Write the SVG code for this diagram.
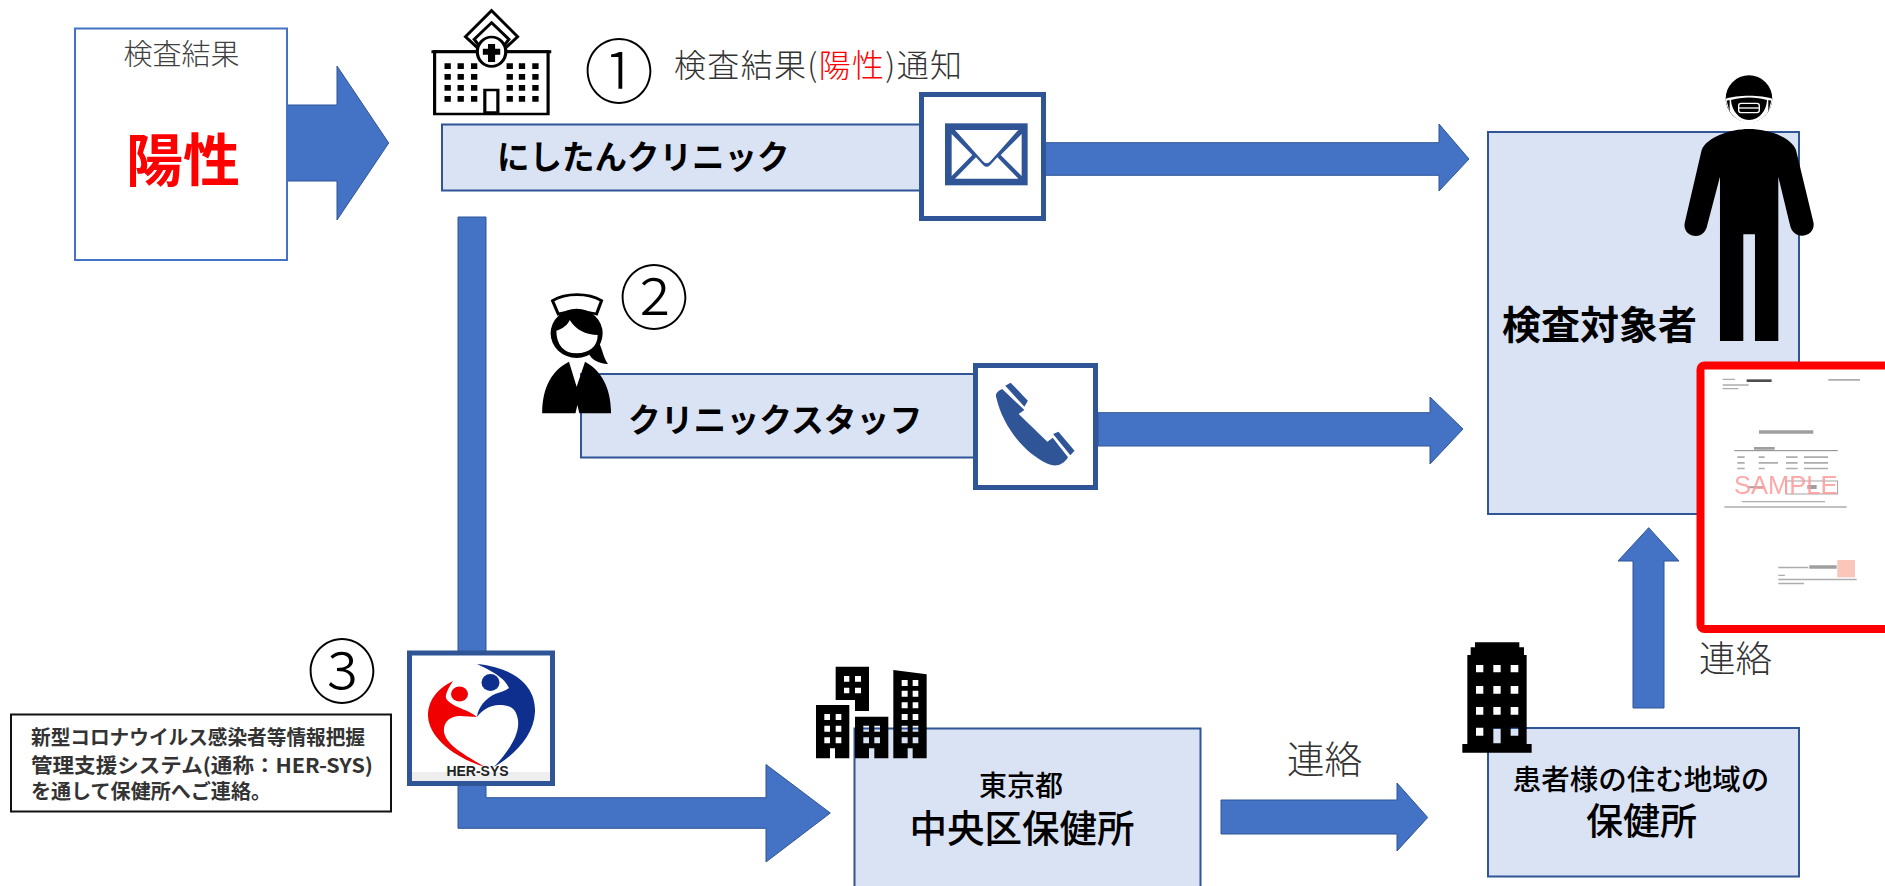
<svg xmlns="http://www.w3.org/2000/svg" width="1885" height="886" viewBox="0 0 1885 886">
<defs>
<style>
text{font-family:"Noto Sans CJK JP","Noto Sans CJK SC","Liberation Sans",sans-serif;fill:#000}
.box{fill:#DAE3F3;stroke:#2F5597;stroke-width:2}
.frame{fill:#fff;stroke:#2F5597;stroke-width:5}
.arrow{fill:#4472C4;stroke:#2F5597;stroke-width:1}
.m{text-anchor:middle}
.lt{font-weight:300}
.md{font-weight:500}
.bd{font-weight:700}
.ink{fill:#2F5597}
.bar{fill:#999}
</style>
<filter id="soft" x="-5%" y="-5%" width="110%" height="110%"><feGaussianBlur stdDeviation="0.45"/></filter>
</defs>
<rect width="1885" height="886" fill="#fff"/>

<g id="connectors">
<path class="arrow" d="M287 105H337V66L388.700 143L337 220V181H287Z"/>
<path class="arrow" d="M1045 142.700H1439V124L1469 159L1439 191V175.300H1045Z"/>
<path class="arrow" d="M1098 412.700H1430V397L1463 429L1430 464V446H1098Z"/>
<path class="arrow" d="M458 217H486V797.700H766V764.500L830.300 813L766 862V828.300H458Z"/>
<path class="arrow" d="M1221 800H1397V783L1427.700 817.500L1397 851V834H1221Z"/>
<path class="arrow" d="M1633 708V561H1618L1648.700 527.700L1679 561H1664V708Z"/>
</g>

<g id="result">
<rect x="75" y="28.500" width="212" height="231.500" fill="#fff" stroke="#4472C4" stroke-width="2"/>
<text class="m lt" x="181.500" y="65" font-size="29" style="fill:#404040">検査結果</text>
<text class="m bd" x="183" y="181" font-size="57" style="fill:#f00">陽性</text>
</g>

<g id="clinic">
<rect class="box" x="442" y="124.500" width="480" height="66"/>
<text class="bd" x="497" y="169" font-size="32.500">にしたんクリニック</text>
<g transform="translate(40 0) scale(.3954 .3333)">
<path d="M998 155H1285V342H998Z M1125 338V270H1158V338Z" fill="#fff" stroke="#000" stroke-width="8"/>
<path d="M990 155H1293" stroke="#000" stroke-width="9" fill="none"/>
<path d="M1142 32L1208 110L1172 150H1112L1076 110Z" fill="#fff" stroke="#000" stroke-width="8"/>
<path d="M1142 68L1186 118L1165 150H1119L1098 118Z" fill="#fff" stroke="#000" stroke-width="8"/>
<ellipse cx="1142" cy="155" rx="36" ry="44" fill="#fff" stroke="#000" stroke-width="8"/>
<path d="M1133 132h18v14h13v18h-13v22h-18v-22h-13v-18h13z" fill="#000"/>
<path d="M1023 190h16v17h-16zM1056 190h16v17h-16zM1090 190h16v17h-16zM1180 190h16v17h-16zM1211 190h16v17h-16zM1245 190h16v17h-16zM1023 222h16v17h-16zM1056 222h16v17h-16zM1090 222h16v17h-16zM1180 222h16v17h-16zM1211 222h16v17h-16zM1245 222h16v17h-16zM1023 255h16v17h-16zM1056 255h16v17h-16zM1090 255h16v17h-16zM1180 255h16v17h-16zM1211 255h16v17h-16zM1245 255h16v17h-16zM1023 288h16v17h-16zM1056 288h16v17h-16zM1090 288h16v17h-16zM1180 288h16v17h-16zM1211 288h16v17h-16zM1245 288h16v17h-16z" fill="#000"/>
</g>
<text class="m lt" x="619" y="98" font-size="70">①</text>
<text class="lt" x="674" y="77" font-size="32" textLength="288" style="fill:#333">検査結果(<tspan style="fill:#f00">陽性</tspan>)通知</text>
</g>

<g id="mail">
<rect class="frame" x="921.500" y="94.500" width="122" height="124"/>
<g transform="translate(900 80) scale(.3333)">
<rect class="ink" x="135" y="130" width="248" height="186"/>
<path fill="#fff" d="M165 150H355L272 243Q260 256 248 243ZM155 162V288L217 225ZM365 162V288L302 225ZM165 296H355L292 232L270 256Q260 265 250 256L228 232Z"/>
</g>
</g>

<g id="staff">
<rect class="box" x="581" y="374" width="394" height="83.500"/>
<text class="bd" x="628" y="432" font-size="32.800">クリニックスタッフ</text>
<g transform="translate(520 270) scale(.3827 .3333)">
<path d="M85 92C120 68 178 68 213 92L200 132C170 122 128 122 100 132Z" fill="#fff" stroke="#000" stroke-width="8"/>
<ellipse cx="148" cy="190" rx="68" ry="74" fill="#000"/>
<path d="M200 210C215 225 215 260 230 282C205 282 185 268 180 250Z" fill="#000"/>
<path d="M95 182C110 177 125 165 130 150C145 180 175 195 203 195C203 230 180 250 148 250C115 250 95 225 95 182Z" fill="#fff"/>
<path d="M58 430C58 350 85 300 128 275L148 350L170 275C210 300 238 350 238 430H155L150 405L145 430Z" fill="#000"/>
</g>
<text class="m lt" x="654" y="324" font-size="70">②</text>
</g>

<g id="phone">
<rect class="frame" x="975.500" y="365.500" width="120" height="122"/>
<g class="ink" transform="translate(520 270) scale(.3827 .3333)">
<path d="M1245 385C1240 370 1250 362 1260 357L1318 420L1303 432L1378 515L1392 503L1432 562C1420 585 1400 592 1380 582C1310 545 1260 460 1245 385Z"/>
<path d="M1268 347L1282 338L1327 392L1318 410Z"/>
<path d="M1393 492L1407 485L1449 542L1438 556Z"/>
</g>
</g>

<g id="target">
<rect class="box" x="1488" y="132" width="311" height="382"/>
<text class="bd" x="1502" y="339" font-size="39">検査対象者</text>
<g transform="translate(1460 50) scale(.3333)">
<circle cx="867" cy="146" r="70"/>
<path d="M797 146C830 134 905 134 937 146C935 186 905 217 867 217C830 217 800 186 797 146Z" fill="#fff"/>
<path d="M800 152L809 150V185ZM934 152L925 150V185Z"/>
<path d="M813 150C845 140 890 140 921 150C920 180 900 209 867 210C835 209 815 180 813 150Z"/>
<rect x="836" y="160" width="62" height="28" rx="7" fill="none" stroke="#fff" stroke-width="4"/>
<path d="M836 174H898" stroke="#fff" stroke-width="4"/>
<path d="M725 300C740 262 810 237 867 237C925 237 995 262 1008 300L1060 515C1066 540 1048 557 1026 557C1008 557 994 545 990 525L955 380V873H885V553H850V873H780V380L742 525C738 545 725 558 708 558C685 558 668 540 675 515Z"/>
</g>
</g>

<g id="document">
<rect x="1700.500" y="365.500" width="200" height="263.500" rx="4" fill="#fff" stroke="#f00" stroke-width="8"/>
<g filter="url(#soft)" opacity=".8">
<g transform="translate(1680 350) scale(.3333)">
<path class="bar" d="M128 86h37v4h-37zM445 87h95v5h-95zM128 103h78v4h-78zM128 114h47v4h-47zM172 319h22v5h-22zM236 319h18v5h-18zM318 319h35v5h-35zM372 319h72v5h-72zM172 336h22v5h-22zM236 336h58v5h-58zM318 336h35v5h-35zM372 336h72v5h-72zM172 353h22v5h-22zM236 353h18v5h-18zM318 353h35v5h-35zM372 353h72v5h-72zM185 453h250v4h-250zM133 469h367v4h-367zM295 650h90v5h-90zM295 674h20v4h-20zM295 686h235v5h-235zM295 698h77v5h-77z"/>
<path d="M200 88h75v8h-75z" fill="#222"/>
<path d="M237 241h163v10h-163zM222 291h62v8h-62zM205 409h45v6h-45zM382 405h28v12h-28zM388 646h82v10h-82z" fill="#888"/>
<path d="M163 302h310" stroke="#666" stroke-width="3" fill="none"/>
<rect x="318" y="393" width="155" height="39" fill="none" stroke="#777" stroke-width="2.500"/>
<rect x="472" y="630" width="53" height="52" fill="#F8B8A8"/>
</g>
</g>
<text x="1734" y="494" font-size="25.500" style="fill:#FF9999;font-family:'Liberation Sans',sans-serif" opacity=".85">SAMPLE</text>
</g>

<g id="hersys-note">
<rect x="11" y="714.500" width="380" height="97" fill="#fff" stroke="#111" stroke-width="2"/>
<text class="bd" x="31" y="745" font-size="20" textLength="334" lengthAdjust="spacingAndGlyphs" style="fill:#333">新型コロナウイルス感染者等情報把握</text>
<text class="bd" x="31" y="773" font-size="20" textLength="342" lengthAdjust="spacingAndGlyphs" style="fill:#333">管理支援システム(通称：HER-SYS)</text>
<text class="bd" x="31" y="799" font-size="20" textLength="240" lengthAdjust="spacingAndGlyphs" style="fill:#333">を通して保健所へご連絡。</text>
<text class="m lt" x="342" y="698" font-size="70">③</text>
</g>

<g id="hersys">
<rect class="frame" x="409.500" y="653" width="143" height="130.500"/>
<rect x="412" y="772" width="138" height="9" fill="#eee"/>
<path fill="#0F2F8F" d="M477 664C515 668 536 686 535 712C534 735 515 755 494 767C508 752 520 735 518 720C516 708 510 705 499 705C490 705 482 710 477 717C478 707 486 698 495 694C500 692 505 691 509 688C505 680 500 675 477 664Z"/>
<path fill="#F00000" d="M453 681C435 690 428 702 428 716C429 738 455 758 485 767C465 755 446 745 444 732C443 722 450 716 460 716C466 716 472 717 477 717C468 710 458 708 452 704C448 701 445 699 446 695C447 690 450 686 453 681Z"/>
<ellipse cx="490.500" cy="682.500" rx="9" ry="8.500" fill="#0F2F8F"/>
<ellipse cx="459.500" cy="694" rx="8.500" ry="7.500" fill="#F00000"/>
<text class="m" x="477.500" y="775.500" font-size="14" style="font-family:'Liberation Sans',sans-serif;font-weight:700;fill:#222">HER-SYS</text>
</g>

<g id="chuo">
<rect class="box" x="854.500" y="728.500" width="346" height="180"/>
<text class="m md" x="1021" y="796" font-size="28">東京都</text>
<text class="m md" x="1022" y="842" font-size="37.500">中央区保健所</text>
<path transform="translate(780 640) scale(.3333)" fill-rule="evenodd" d="M167 80H267V213H225V180H167Z M192 108h16v17h-16z M225 108h18v17h-18z M192 143h16v17h-16z M225 143h18v17h-18z
M108 195H208V355H165V325H150V355H108Z M133 222h17v18h-17z M167 222h17v18h-17z M133 257h17v18h-17z M167 257h17v18h-17z M133 292h17v18h-17z M167 292h17v18h-17z
M225 230H325V355H283V325H267V355H225Z M250 257h17v18h-17z M283 257h17v18h-17z M250 292h17v18h-17z M283 292h17v18h-17z
M340 90L440 103V355H398V325H383V355H340Z M365 120h18v18h-18z M398 120h17v18h-17z M365 152h18v18h-18z M398 152h17v18h-17z M365 187h18v18h-18z M398 187h17v18h-17z M365 222h18v18h-18z M398 222h17v18h-17z M365 257h18v18h-18z M398 257h17v18h-17z M365 292h18v18h-18z M398 292h17v18h-17z"/>
</g>

<text class="lt" x="1287" y="773" font-size="37.500" style="fill:#333">連絡</text>

<g id="local">
<rect class="box" x="1488" y="728" width="311" height="148.500"/>
<text class="m md" x="1641" y="790" font-size="28.500">患者様の住む地域の</text>
<text class="m md" x="1641.500" y="835" font-size="37">保健所</text>
<path transform="translate(1420 620) scale(.3333)" fill-rule="evenodd" d="M165 67H298V82H312V105H320V372H335V398H127V372H142V105H152V82H165Z M168 135h22v22h-22z M220 135h22v22h-22z M272 135h23v22h-23z M168 198h22v23h-22z M220 198h22v23h-22z M272 198h23v23h-23z M168 261h22v23h-22z M220 261h22v23h-22z M272 261h23v23h-23z M168 323h22v24h-22z M220 325h22v45h-22z M272 323h23v24h-23z"/>
</g>

<text class="lt" x="1699" y="672" font-size="36.500" style="fill:#333">連絡</text>
</svg>
